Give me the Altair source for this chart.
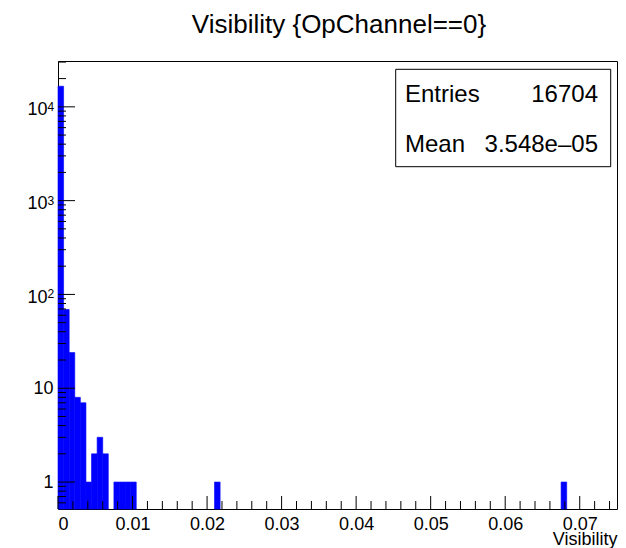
import altair as alt
import pandas as pd

# ---------------- data ----------------
title_text = "Visibility {OpChannel==0}"
x_title = "Visibility"
bin_width = 0.00075
bin_index = [0, 1, 2, 3, 4, 5, 6, 7, 8, 10, 11, 12, 13, 28, 90]
counts = [16582, 69, 24, 8, 7, 1, 2, 3, 2, 1, 1, 1, 1, 1, 1]

x_major = [0.0, 0.01, 0.02, 0.03, 0.04, 0.05, 0.06, 0.07]
x_minor = [round(0.002 * k, 3) for k in range(1, 38) if k % 5 != 0]
y_major = [1, 10, 100, 1000, 10000]
y_minor = [0.6, 0.7, 0.8, 0.9] + [m * 10 ** d for d in range(0, 4) for m in range(2, 10)] + [20000, 30000]
y_exp_values = [100, 1000, 10000]
y_exp_text = ["2", "3", "4"]

stats_names = ["Entries", "Mean"]
stats_values = ["16704", "3.548e\u201305"]

FONT = "Liberation Sans"
W, H = 559, 448
BLUE = "#0000ff"

hist = pd.DataFrame({
    "lo": [i * bin_width for i in bin_index],
    "hi": [(i + 1) * bin_width for i in bin_index],
    "count": counts,
})

xscale = alt.Scale(domain=[0, 0.075], nice=False, zero=False)
yscale = alt.Scale(type="log", domain=[0.516, 30800], nice=False)

x_axis = alt.Axis(
    values=x_major,
    labelExpr="datum.value == 0 ? '0' : format(datum.value, '.2f')",
    labelFontSize=18, labelPadding=6, tickSize=0, ticks=False, domain=False, grid=False,
    title=x_title, titleFontSize=18, titleFontWeight="normal",
    titleAnchor="end", titleAlign="right", titleBaseline="alphabetic",
    titleX=W, titleY=35,
)
y_axis = alt.Axis(
    values=y_major,
    labelExpr="datum.value == 1 ? '1' : (datum.value == 10 ? '10' : '')",
    labelFontSize=18, labelPadding=5, tickSize=0, ticks=False, domain=False, grid=False,
    title="",
)

bars = alt.Chart(hist).mark_rect(color=BLUE, stroke=BLUE, strokeWidth=0.6).encode(
    x=alt.X("lo:Q", scale=xscale, axis=x_axis),
    x2="hi:Q",
    y=alt.Y("count:Q", scale=yscale, axis=y_axis),
    y2=alt.value(H),
)

def vrules(vals, length):
    df = pd.DataFrame({"lo": vals})
    return alt.Chart(df).mark_rule(color="black", strokeWidth=1).encode(
        x=alt.X("lo:Q", scale=xscale, axis=x_axis),
        y=alt.value(H), y2=alt.value(H - length),
    )

def hrules(vals, length):
    df = pd.DataFrame({"count": vals})
    return alt.Chart(df).mark_rule(color="black", strokeWidth=1).encode(
        y=alt.Y("count:Q", scale=yscale, axis=y_axis),
        x=alt.value(0), x2=alt.value(length),
    )

exp_df = pd.DataFrame({"count": y_exp_values, "e": y_exp_text, "base": ["10"] * 3})
exp_base = alt.Chart(exp_df).mark_text(
    font=FONT, fontSize=18, align="right", baseline="alphabetic", dy=8.5, color="black"
).encode(y=alt.Y("count:Q", scale=yscale, axis=y_axis), x=alt.value(-10.5), text="base:N")
exp_sup = alt.Chart(exp_df).mark_text(
    font=FONT, fontSize=12, align="left", baseline="alphabetic", dy=4, color="black"
).encode(y=alt.Y("count:Q", scale=yscale, axis=y_axis), x=alt.value(-10.5), text="e:N")

title_layer = alt.Chart(pd.DataFrame({"t": [title_text]})).mark_text(
    font=FONT, fontSize=26, align="center", baseline="alphabetic", color="black"
).encode(x=alt.value(281), y=alt.value(-28), text="t:N")

box = alt.Chart(pd.DataFrame({"a": [0]})).mark_rect(
    fill="white", stroke="black", strokeWidth=1
).encode(x=alt.value(337.7), x2=alt.value(552.7), y=alt.value(8.3), y2=alt.value(105.7))

stat_layers = []
row_y = [40.7, 90.7]
for name, val, yy in zip(stats_names, stats_values, row_y):
    d = pd.DataFrame({"n": [name], "v": [val]})
    stat_layers.append(alt.Chart(d).mark_text(
        font=FONT, fontSize=24, align="left", baseline="alphabetic", color="black"
    ).encode(x=alt.value(347), y=alt.value(yy), text="n:N"))
    stat_layers.append(alt.Chart(d).mark_text(
        font=FONT, fontSize=24, align="right", baseline="alphabetic", color="black"
    ).encode(x=alt.value(540), y=alt.value(yy), text="v:N"))

chart = alt.layer(
    bars,
    vrules(x_major, 13), vrules(x_minor, 8),
    hrules(y_major, 17), hrules(y_minor, 8),
    exp_base, exp_sup, title_layer,
    box, *stat_layers,
).properties(
    width=W, height=H,
    padding={"left": 50, "top": 53, "right": 1, "bottom": 40},
    autosize=alt.AutoSizeParams(type="none"),
    background="white",
).configure_view(stroke="black", strokeWidth=1).configure_axis(
    grid=False, domain=False, ticks=False, labelFont=FONT, titleFont=FONT,
    labelColor="black", titleColor="black",
)

chart.save("out.html", embed_options={"renderer": "svg", "actions": False})
